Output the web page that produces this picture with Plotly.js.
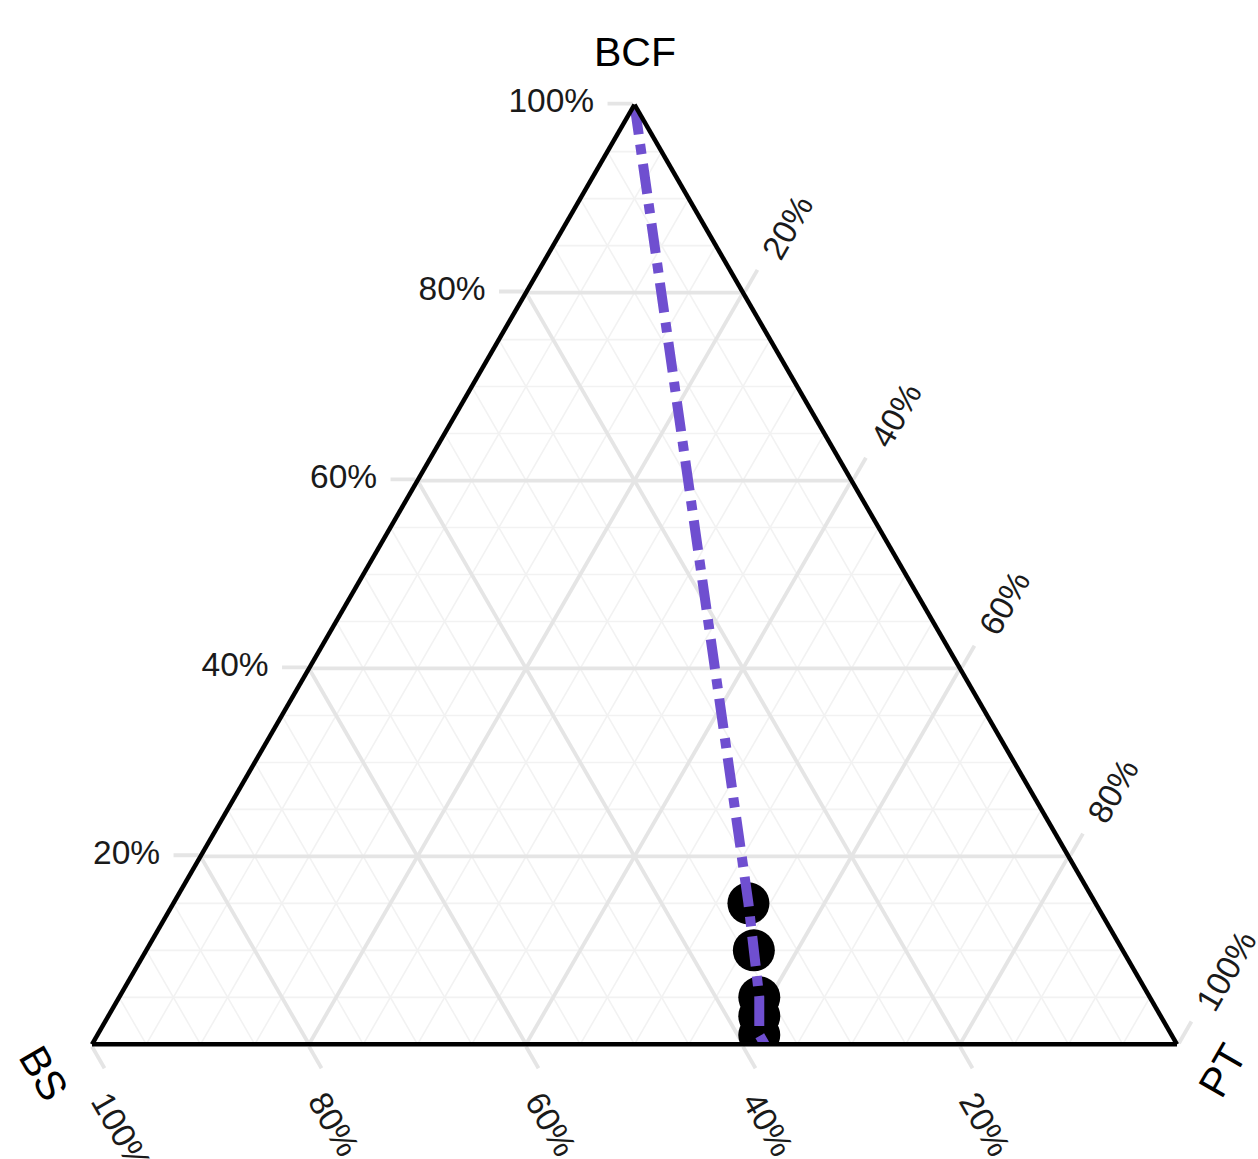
<!DOCTYPE html>
<html>
<head>
<meta charset="utf-8">
<script src="https://cdn.plot.ly/plotly-3.0.1.min.js"></script>
<style>
  html, body { margin: 0; padding: 0; background: #ffffff; }
  #chart { width: 1258px; height: 1159px; }
</style>
</head>
<body>
<div id="chart"></div>
<script>
// Composition path (percent): BCF, BS, PT
const bcf = [100, 15, 10, 5, 3, 1, 0];
const bs  = [0, 32, 34, 36, 37, 38, 38];
const pt  = [0, 53, 56, 59, 60, 61, 62];

// Sampled compositions (circles)
const sampleBCF = [15, 10, 5, 3, 1];
const sampleBS  = [32, 34, 36, 37, 38];
const samplePT  = [53, 56, 59, 60, 61];

// Axis labelling and grid levels
const majorTicks = [20, 40, 60, 80, 100];
const majorTickText = ['20%', '40%', '60%', '80%', '100%'];
const majorGrid = [20, 40, 60, 80];
const minorGrid = [5, 10, 15, 25, 30, 35, 45, 50, 55, 65, 70, 75, 85, 90, 95];
const axisNames = ['BCF', 'BS', 'PT'];

// Build iso-lines for all three components as one broken path.
function isoLines(levels) {
  const a = [], b = [], c = [];
  levels.forEach(v => {
    // constant BCF
    a.push(v, v, null); b.push(100 - v, 0, null); c.push(0, 100 - v, null);
    // constant BS
    a.push(0, 100 - v, null); b.push(v, v, null); c.push(100 - v, 0, null);
    // constant PT
    a.push(100 - v, 0, null); b.push(0, 100 - v, null); c.push(v, v, null);
  });
  return {a, b, c};
}

const minor = isoLines(minorGrid);
const major = isoLines(majorGrid);

const traces = [
  {
    type: 'scatterternary', mode: 'lines',
    a: minor.a, b: minor.b, c: minor.c,
    line: {color: '#f2f2f2', width: 1.6},
    connectgaps: false, hoverinfo: 'skip', showlegend: false
  },
  {
    type: 'scatterternary', mode: 'lines',
    a: major.a, b: major.b, c: major.c,
    line: {color: '#e5e5e5', width: 3.8},
    connectgaps: false, hoverinfo: 'skip', showlegend: false
  },
  {
    type: 'scatterternary', mode: 'markers',
    a: sampleBCF, b: sampleBS, c: samplePT,
    marker: {color: '#000000', size: 42, line: {width: 0}},
    showlegend: false
  },
  {
    type: 'scatterternary', mode: 'lines',
    a: bcf, b: bs, c: pt,
    line: {color: '#6f4fd0', width: 10, dash: 'dashdot'},
    showlegend: false
  }
];

const fontFamily = '"Liberation Sans", Arial, sans-serif';
const tickFont = {family: fontFamily, size: 33.5, color: '#1a1a1a'};
const titleFont = {family: fontFamily, size: 41, color: '#000000'};
const gap = '\u00a0';

function axisStyle(labels, extra) {
  return Object.assign({
    tickmode: 'array',
    tickvals: majorTicks,
    ticktext: labels,
    ticks: 'outside',
    ticklen: 25,
    tickwidth: 3.8,
    tickcolor: '#e5e5e5',
    tickfont: tickFont,
    showgrid: false,
    showline: true,
    linecolor: '#000000',
    linewidth: 4.5,
    layer: 'above traces',
    title: {text: ''}
  }, extra);
}

const layout = {
  width: 1258,
  height: 1159,
  margin: {l: 92, r: 81, t: 103, b: 113},
  paper_bgcolor: '#ffffff',
  plot_bgcolor: '#ffffff',
  font: {family: fontFamily},
  showlegend: false,
  ternary: {
    sum: 100,
    bgcolor: '#ffffff',
    domain: {x: [0, 1], y: [0, 1]},
    aaxis: axisStyle(majorTickText.map(t => t + gap), {}),
    baxis: axisStyle(majorTickText, {tickangle: 60}),
    caxis: axisStyle(majorTickText.map(t => gap + t), {tickangle: -60})
  },
  annotations: [
    {
      text: axisNames[0], xref: 'paper', yref: 'paper',
      x: 0.5, y: 1.054, xanchor: 'center', yanchor: 'middle',
      showarrow: false, font: titleFont
    },
    {
      text: axisNames[1], xref: 'paper', yref: 'paper',
      x: -0.045, y: -0.029, xanchor: 'center', yanchor: 'middle',
      textangle: 60, showarrow: false, font: titleFont
    },
    {
      text: axisNames[2], xref: 'paper', yref: 'paper',
      x: 1.0415, y: -0.026, xanchor: 'center', yanchor: 'middle',
      textangle: -60, showarrow: false, font: titleFont
    }
  ]
};

Plotly.newPlot('chart', traces, layout, {displayModeBar: false, staticPlot: true});
</script>
</body>
</html>
